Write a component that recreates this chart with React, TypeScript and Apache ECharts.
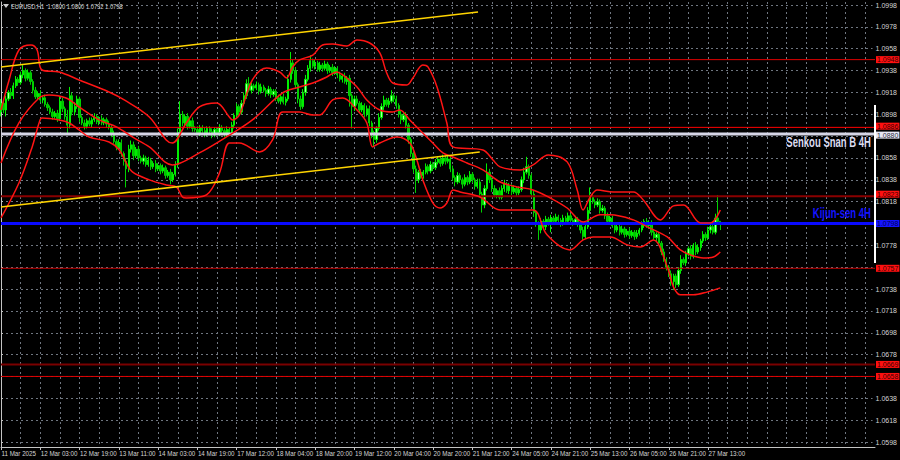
import React, { useEffect, useRef } from "react";
import * as echarts from "echarts";

const SYMBOL = "EURUSD,H1";
const FIRST_OPEN = 1.09;
const PIP = 0.0001;
const TOTAL_SLOTS = 357;
const LABEL_EVERY = 16;
const GRID_EVERY = 8;

const closes = [
  1.0908, 1.0902, 1.0912, 1.0918, 1.0915, 1.0924, 1.093, 1.0927,
  1.0934, 1.0938, 1.0931, 1.0936, 1.0928,
  1.092, 1.0914, 1.0917, 1.0911,
  1.0913, 1.0907, 1.0904,
  1.09, 1.0896, 1.0899, 1.0894,
  1.091, 1.0903, 1.0896,
  1.0888, 1.0915, 1.09,
  1.0905, 1.0912, 1.0895,
  1.089, 1.0887, 1.0892, 1.0889, 1.0893, 1.0896, 1.0891, 1.0894, 1.089, 1.0893, 1.0889, 1.0886,
  1.088, 1.0873, 1.0868, 1.0872,
  1.0862, 1.0855, 1.0848, 1.0866,
  1.087, 1.086, 1.0866, 1.0858,
  1.0855, 1.0858, 1.0852, 1.0856, 1.085, 1.0853, 1.0848, 1.0851,
  1.0846, 1.0849, 1.0842, 1.0845, 1.0838, 1.0843,
  1.0852, 1.088, 1.0898,
  1.089, 1.0896, 1.0887, 1.0892, 1.0885,
  1.0884, 1.0881, 1.0886, 1.0883, 1.088, 1.0885, 1.0882, 1.0879, 1.0884, 1.0881, 1.0886, 1.0883, 1.088, 1.0884, 1.0881,
  1.0888, 1.0897, 1.0905, 1.09, 1.0908,
  1.0915, 1.0926, 1.092, 1.0924,
  1.0922, 1.0925, 1.0919, 1.0923, 1.092, 1.0917, 1.0921, 1.0916, 1.0919,
  1.0913, 1.091, 1.0914, 1.0909, 1.0912,
  1.093, 1.0945, 1.0938,
  1.0925, 1.0912, 1.0905, 1.0918, 1.093,
  1.094, 1.0947, 1.0942, 1.0945, 1.0939,
  1.0943, 1.094, 1.0944, 1.0938, 1.0941, 1.0936, 1.094,
  1.0934, 1.093, 1.0933, 1.0928, 1.0931,
  1.0915, 1.0905, 1.0912,
  1.0908, 1.0902, 1.0906, 1.0898, 1.0903,
  1.089, 1.088, 1.0875, 1.0885, 1.0895,
  1.0905, 1.0911, 1.0907, 1.091,
  1.0915, 1.0912, 1.0906,
  1.0898, 1.0893, 1.0897,
  1.0888, 1.0875, 1.0862,
  1.0848, 1.0838, 1.0845, 1.0842,
  1.0845, 1.085, 1.0846, 1.0852, 1.0849, 1.0854, 1.0857,
  1.0853, 1.0858, 1.0855, 1.0857,
  1.0848, 1.084, 1.0836, 1.0842, 1.0838,
  1.0834, 1.084, 1.0836, 1.0843, 1.0838, 1.0832, 1.0836,
  1.0825, 1.0815, 1.083,
  1.0845, 1.0838,
  1.083, 1.0824, 1.0828, 1.0822,
  1.083, 1.0834, 1.0828, 1.0832,
  1.0827, 1.083, 1.0826, 1.0829,
  1.0838, 1.0845, 1.085, 1.0842,
  1.0825, 1.0808, 1.0798, 1.0792,
  1.08, 1.0795, 1.0802, 1.0798, 1.0803,
  1.08, 1.0804, 1.0801, 1.0798, 1.0803, 1.08, 1.0805, 1.0801, 1.0799, 1.0802, 1.0798,
  1.0792, 1.0786, 1.0795,
  1.081, 1.0822, 1.0818,
  1.0815, 1.0818, 1.081, 1.0812,
  1.0805, 1.08, 1.0803,
  1.0796, 1.0792, 1.0795, 1.079, 1.0793, 1.0788, 1.0791, 1.0787, 1.079, 1.0786, 1.0789, 1.0792,
  1.0797, 1.08, 1.0796, 1.0799,
  1.079, 1.0785, 1.0788, 1.078,
  1.0772, 1.0765, 1.0758, 1.0752,
  1.0745, 1.075, 1.0742,
  1.0755, 1.0765, 1.0762,
  1.077, 1.0775, 1.0768, 1.0778, 1.0772,
  1.0776, 1.0782, 1.0788, 1.0785, 1.0792,
  1.0795, 1.079, 1.0803, 1.08, 1.0798,
];

// upper / lower shadow lengths in pips
const upperWick = [
  4,3,3,2,4,3,3,2, 3,5,2,3,2, 2,3,2,3, 2,3,2, 2,3,2,3, 4,3,2, 6,8,3, 4,3,2,
  2,3,2,3,2,3,2,2,3,2,2,3, 2,3,2,3, 3,2,3,4, 4,3,2,3, 2,3,2,3,2,2,3,2, 2,3,2,2,3,2,
  3,5,12, 3,2,3,2,3, 2,3,2,2,3,2,2,3,2,2,3,2,2,3,2, 3,2,3,2,3, 3,4,6,3,
  2,3,2,3,2,2,3,2,2, 2,3,2,3,2, 4,10,3, 3,2,3,3,4, 3,5,2,3,2, 3,2,3,2,2,3,2,
  2,3,2,3,2, 3,2,3, 3,2,3,2,3, 3,2,3,2,4, 3,4,2,3, 5,2,3, 2,3,2, 3,2,2, 2,3,2,3,
  2,3,2,3,2,3,2, 2,3,2,3, 2,3,2,3,2, 2,3,2,3,2,2,3, 3,2,3, 8,3, 2,3,2,3, 3,4,2,3,
  2,3,2,3, 3,4,9,2, 2,3,2,2, 3,2,3,2,3, 2,3,2,2,3,2,3,2,2,3,2, 2,3,2, 3,9,3,
  2,3,2,3, 2,3,2, 2,3,2,2,3,2,2,3,2,2,3,2, 3,2,3,2, 2,3,2,2, 2,3,2,2, 3,2,2,
  3,4,2, 3,2,3,2,3, 3,2,3,2,3, 3,2,4,21,0,
];
const lowerWick = [
  4,3,6,2,3,3,2,3, 2,3,3,2,3, 3,2,3,2, 3,2,3, 2,3,2,3, 2,3,3, 8,3,3, 3,2,4,
  2,3,2,2,3,2,2,3,2,2,3,2, 3,2,3,2, 3,4,17,3, 3,4,2,3, 2,3,2,2,3,2,3,2, 3,2,3,2,4,2,
  2,3,3, 3,2,3,2,3, 2,2,3,2,3,2,2,3,2,2,3,2,3,2,2, 2,3,2,3,2, 2,3,2,3,
  3,2,3,2,2,3,2,3,2, 3,2,3,2,3, 2,3,3, 3,4,3,2,3, 2,3,2,3,2, 2,3,2,3,2,3,2,
  3,2,3,2,3, 10,20,4, 2,3,2,3,2, 3,4,7,3,2, 2,3,2,3, 2,3,3, 3,4,2, 3,4,3, 4,12,3,3,
  3,2,3,2,3,2,2, 3,2,3,2, 3,3,4,2,3, 4,2,3,2,3,3,2, 3,7,3, 2,3, 3,2,3,2, 2,3,2,3,
  3,2,3,2, 2,3,2,3, 3,4,3,9, 3,2,3,2,8, 2,3,2,3,2,2,3,2,3,2,3, 3,3,2, 2,3,2,
  3,2,3,2, 3,2,3, 2,3,2,3,2,3,2,3,2,3,2,2, 2,3,2,3, 3,2,3,2, 3,2,3,3, 4,8,3,
  2,3,2, 3,2,3,2,3, 2,3,2,3,2, 3,2,2,3,6,
];

const tickLabels = [
  "11 Mar 2025", "12 Mar 03:00", "12 Mar 19:00", "13 Mar 11:00", "14 Mar 03:00",
  "14 Mar 19:00", "17 Mar 12:00", "18 Mar 04:00", "18 Mar 20:00", "19 Mar 12:00",
  "20 Mar 04:00", "20 Mar 20:00", "21 Mar 12:00", "24 Mar 05:00", "24 Mar 21:00",
  "25 Mar 13:00", "26 Mar 05:00", "26 Mar 21:00", "27 Mar 13:00",
];

const PRICE_TICK_MIN = 1.0598;
const PRICE_TICK_MAX = 1.0998;
const PRICE_TICK_STEP = 0.002;

// [bar index, price]
const bandUpper = [
  [0, 1.09019], [3.3, 1.09294], [7.3, 1.09568], [12.2, 1.09614], [14.7, 1.09568], [16.7, 1.09385],
  [23.7, 1.09367], [31.8, 1.09294], [44, 1.09184], [50.2, 1.09111], [60.4, 1.08955], [67.3, 1.08745],
  [69.8, 1.08717], [75.5, 1.089], [80.8, 1.09047], [87.8, 1.09083], [93, 1.08955], [94.3, 1.08928],
  [97.1, 1.08974], [102.4, 1.09294], [108.2, 1.09404], [113.5, 1.09367], [116.3, 1.09312],
  [118.8, 1.09413], [121.6, 1.09477], [127, 1.09522], [131, 1.09614], [135, 1.09623],
  [140.8, 1.09605], [145, 1.0966], [150.2, 1.09632], [154.3, 1.09541], [157.1, 1.09358],
  [159.6, 1.09266], [165.3, 1.09248], [167.8, 1.09312], [171.8, 1.09431], [173.9, 1.09413],
  [177.6, 1.0923], [181.6, 1.089], [184.1, 1.08681], [196.3, 1.08653], [200.4, 1.08562],
  [203.3, 1.08498], [211.4, 1.0847], [216.7, 1.08516], [222.9, 1.08608], [230.6, 1.08544],
  [234.7, 1.08287], [237.1, 1.08104], [240, 1.08223], [242.9, 1.08287], [249.4, 1.08269],
  [257.6, 1.08269], [261.6, 1.08196], [268.6, 1.08013], [273.9, 1.08141], [278, 1.0815],
  [284.9, 1.07985], [289, 1.07985], [293, 1.08104],
];
const bandMiddle = [
  [0, 1.08534], [7.3, 1.089], [15.5, 1.09129], [19.6, 1.09157], [26.5, 1.09129], [31.8, 1.09047],
  [40, 1.08928], [47, 1.08864], [53.5, 1.08772], [60.4, 1.08681], [69.8, 1.08516], [80.8, 1.08626],
  [91.8, 1.08772], [102.4, 1.08928], [114.7, 1.09175], [121.6, 1.0923], [127, 1.09266],
  [132.7, 1.09321], [136.7, 1.09367], [139.2, 1.0934], [145, 1.0923], [149, 1.09111],
  [154.3, 1.09019], [159.6, 1.09001], [162.4, 1.09019], [166.5, 1.08928], [171.8, 1.08809],
  [175.9, 1.08717], [180, 1.08626], [184.1, 1.08589], [189.8, 1.08534], [196.3, 1.0847],
  [203.3, 1.0836], [210.2, 1.08315], [216.7, 1.08287], [223.7, 1.08214], [230.6, 1.08122],
  [237.1, 1.07994], [244, 1.08059], [248.2, 1.08059], [257.6, 1.08013], [263.3, 1.07949],
  [271.4, 1.07857], [276.7, 1.07738], [280.8, 1.07693], [286.1, 1.07665], [290.2, 1.07674],
  [293, 1.0772],
];
const bandLower = [
  [0, 1.08031], [7.3, 1.08351], [12.7, 1.08681], [15.5, 1.089], [16.7, 1.08946], [23.7, 1.08928],
  [27.8, 1.089], [31.8, 1.08836], [35.9, 1.08772], [44, 1.08726], [48.2, 1.08653], [51, 1.08534],
  [53.5, 1.08452], [60.4, 1.08379], [67.3, 1.08333], [71.4, 1.08315], [73.9, 1.08223],
  [75.5, 1.08214], [83.7, 1.08242], [89, 1.08443], [93, 1.08717], [97.1, 1.08717],
  [105.3, 1.08635], [110.6, 1.08745], [114.7, 1.09001], [121.6, 1.09001], [127, 1.08974],
  [129.8, 1.08974], [135.1, 1.09111], [139.2, 1.09129], [145, 1.09019], [149, 1.089],
  [151.4, 1.08681], [154.3, 1.08717], [161.2, 1.08772], [166.5, 1.08717], [169.4, 1.08562],
  [171.8, 1.08379], [175.9, 1.08168], [178.8, 1.08122], [181.6, 1.08168], [184.1, 1.08287],
  [187, 1.08269], [195.1, 1.08223], [203.3, 1.08104], [216.7, 1.08104], [222.4, 1.07876],
  [231.8, 1.07738], [237.1, 1.0783], [241.2, 1.07857], [248.2, 1.07857], [255.1, 1.07784],
  [260.4, 1.07766], [265.7, 1.0783], [271.4, 1.07583], [273.9, 1.074], [276.7, 1.07327],
  [282, 1.07327], [287.8, 1.07354], [293, 1.07391],
];

const channelUpper = [[0, 1.09413], [194.3, 1.09916]];
const channelLower = [[0, 1.08132], [195, 1.08635]];

const levels = [1.0948, 1.0886, 1.088, 1.0823, 1.0798, 1.0757, 1.0669, 1.0658];
const levelNotes = ["Senkou Snan B 4H", "Kijun-sen 4H"];

// ---------- styles (kept apart from the data) ----------
const levelStyles = [
  { line: "#e00000", width: 1, bg: "#ff1010", fg: "#3a0000", dy: 0 },
  { line: "#ff0000", width: 1, bg: "#ff1010", fg: "#3a0000", dy: -1.2 },
  { line: "#d6d6e6", width: 3, bg: "#e6e6f4", fg: "#303040", dy: 1.2 },
  { line: "#8a0000", width: 2, bg: "#ff1010", fg: "#3a0000", dy: -2 },
  { line: "#0a0aff", width: 3, bg: "#1414ff", fg: "#000050", dy: 0 },
  { line: "#c00000", width: 1, bg: "#ff1010", fg: "#3a0000", dy: 0 },
  { line: "#7a0000", width: 2, bg: "#ff1010", fg: "#3a0000", dy: 0 },
  { line: "#e00000", width: 1, bg: "#ff1010", fg: "#3a0000", dy: 0 },
];
const FONT = "'Liberation Sans', Arial, sans-serif";
const AXIS_TXT = "#d4d4d4";
const GRID_CLR = "#6f7680";

export default function App() {
  const ref = useRef<HTMLDivElement>(null);

  useEffect(() => {
    if (!ref.current) return;
    const chart = echarts.init(ref.current, undefined, { renderer: "svg" });

    let prev = FIRST_OPEN;
    const candles = closes.map((c, i) => {
      const o = prev;
      prev = c;
      const h = Math.max(o, c) + upperWick[i] * PIP;
      const l = Math.min(o, c) - lowerWick[i] * PIP;
      return [o, c, l, h];
    });
    const last = candles[candles.length - 1];
    const title = `${SYMBOL}  ${last[0].toFixed(4)} ${last[3].toFixed(4)} ${last[2].toFixed(4)} ${last[1].toFixed(4)}`;

    const categories = Array.from({ length: TOTAL_SLOTS }, (_, i) => "b" + i);

    const pxPerPrice = 437 / (PRICE_TICK_MAX - PRICE_TICK_MIN);
    const yMin = PRICE_TICK_MIN - 5 / pxPerPrice;
    const yMax = PRICE_TICK_MAX + 3 / pxPerPrice;

    const bandStyle = { color: "#ff1414", width: 1.5 };
    const lineSeries = (data: number[][], style: any, smooth: number | boolean, z = 5) => ({
      type: "line",
      xAxisIndex: 2,
      yAxisIndex: 1,
      data,
      smooth,
      symbol: "none",
      lineStyle: style,
      z,
      silent: true,
    });

    const levelSeries = levels.map((p, k) => ({
      ...lineSeries(
        [
          [0, p],
          [TOTAL_SLOTS - 1, p],
        ],
        { color: levelStyles[k].line, width: levelStyles[k].width },
        false,
        4 + (k === 2 ? 0.5 : 0)
      ),
      endLabel: {
        show: true,
        formatter: () => p.toFixed(4),
        backgroundColor: levelStyles[k].bg,
        color: levelStyles[k].fg,
        fontSize: 7,
        fontFamily: FONT,
        lineHeight: 7,
        padding: [0, 1, 0, 1],
        distance: 1,
        offset: [0, levelStyles[k].dy],
      },
    }));

    const hideTick = (v: number) => levels.some((p) => Math.abs(p - v) <= 0.00031);

    const option: any = {
      animation: false,
      backgroundColor: "#000000",
      textStyle: { fontFamily: FONT },
      grid: [
        { left: 1, right: 25, top: 5, bottom: 18 },
        { left: 1, right: 25, top: 2, bottom: 13 },
      ],
      xAxis: [
        { gridIndex: 0, type: "value", min: 0, max: 1, show: false },
        {
          gridIndex: 1,
          type: "category",
          data: categories,
          boundaryGap: false,
          axisLine: { show: true, lineStyle: { color: "#c4c4c4", width: 1 } },
          axisTick: {
            show: true,
            interval: (i: number) => i % LABEL_EVERY === 0 && i / LABEL_EVERY < tickLabels.length,
            length: 3,
            lineStyle: { color: "#c4c4c4" },
          },
          axisLabel: { show: false },
          splitLine: {
            show: true,
            interval: (i: number) => i % GRID_EVERY === 0,
            lineStyle: { color: GRID_CLR, type: [2, 3], width: 1 },
          },
        },
        { gridIndex: 1, type: "value", min: 0, max: TOTAL_SLOTS - 1, show: false },
      ],
      yAxis: [
        {
          gridIndex: 0,
          type: "value",
          position: "right",
          min: PRICE_TICK_MIN,
          max: PRICE_TICK_MAX,
          interval: PRICE_TICK_STEP,
          axisLine: { show: false },
          axisTick: { show: true, length: 2, lineStyle: { color: "#c4c4c4" } },
          axisLabel: {
            color: AXIS_TXT,
            fontSize: 7,
            fontFamily: FONT,
            margin: 3,
            formatter: (v: number) => (hideTick(v) ? "" : v.toFixed(4)),
          },
          splitLine: { show: true, lineStyle: { color: GRID_CLR, type: [2, 3], width: 1 } },
        },
        {
          gridIndex: 1,
          type: "value",
          position: "right",
          min: yMin,
          max: yMax,
          axisLine: { show: true, lineStyle: { color: "#c4c4c4", width: 1 } },
          axisTick: { show: false },
          axisLabel: { show: false },
          splitLine: { show: false },
        },
      ],
      series: [
        {
          type: "candlestick",
          xAxisIndex: 1,
          yAxisIndex: 1,
          data: candles,
          barWidth: 1.8,
          z: 3,
          itemStyle: {
            color: "#a8ffa8",
            color0: "#00c000",
            borderColor: "#00f000",
            borderColor0: "#00d000",
            borderWidth: 1,
          },
        },
        ...levelSeries,
        lineSeries(bandUpper, bandStyle, 0.35),
        lineSeries(bandMiddle, bandStyle, 0.35),
        lineSeries(bandLower, bandStyle, 0.35),
        lineSeries(channelUpper, { color: "#ffd400", width: 1.5 }, false),
        lineSeries(channelLower, { color: "#ffd400", width: 1.5 }, false),
      ],
    };

    chart.setOption(option);

    // time-axis labels placed through the library's own x scale
    const axisY = chart.convertToPixel({ yAxisIndex: 1 }, yMin) as number;
    const timeLabels = tickLabels.map((t, k) => ({
      type: "text",
      x: (chart.convertToPixel({ xAxisIndex: 2 }, k * LABEL_EVERY) as number) + 0.5,
      y: axisY + 6.5,
      scaleX: 0.78,
      silent: true,
      style: {
        text: t,
        fill: AXIS_TXT,
        font: `8px ${FONT}`,
        textAlign: "left",
        textVerticalAlign: "middle",
      },
    }));

    chart.setOption({
      graphic: [
        { type: "polygon", shape: { points: [[3, 4], [9, 4], [6, 8]] }, style: { fill: "#c8c8c8" } },
        {
          type: "text",
          x: 11,
          y: 6,
          scaleX: 0.72,
          style: {
            text: title,
            fill: "#d8d8d8",
            font: `8px ${FONT}`,
            textVerticalAlign: "middle",
          },
        },
        { type: "rect", shape: { x: 874, y: 105, width: 2, height: 158 }, style: { fill: "#ffffff" }, z: 10 },
        {
          type: "text",
          x: 871,
          y: 142,
          z: 10,
          scaleX: 0.68,
          style: {
            text: levelNotes[0],
            fill: "#dcdcf0",
            font: `bold 14px ${FONT}`,
            textAlign: "right",
            textVerticalAlign: "middle",
          },
        },
        {
          type: "text",
          x: 871,
          y: 213,
          z: 10,
          scaleX: 0.68,
          style: {
            text: levelNotes[1],
            fill: "#1414ff",
            font: `bold 14px ${FONT}`,
            textAlign: "right",
            textVerticalAlign: "middle",
          },
        },
        ...timeLabels,
      ],
    });

    return () => chart.dispose();
  }, []);

  return (
    <div
      ref={ref}
      style={{ position: "absolute", left: 0, top: 0, width: 900, height: 460, background: "#000" }}
    />
  );
}
